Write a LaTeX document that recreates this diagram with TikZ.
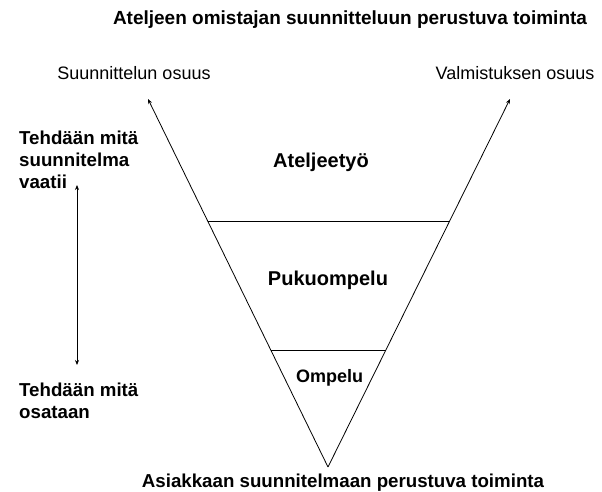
\documentclass[tikz,border=0pt]{standalone}
\usepackage{fontspec}
\setmainfont{Liberation Sans}
\usetikzlibrary{arrows.meta,calc}
\tikzset{>={Stealth[length=5pt,width=4pt]}}
\tikzstyle{plain} = [inner sep=0pt, font=\fontsize{18}{22}\selectfont]
\tikzstyle{heavy} = [inner sep=0pt, font=\bfseries\fontsize{18.7}{22}\selectfont]
\tikzstyle{edgeline} = [line width=0.8pt]

\begin{document}
\begin{tikzpicture}[x=1pt, y=-1pt]
  \useasboundingbox (0,0) rectangle (602,492);

  \node [heavy, font=\bfseries\fontsize{19}{22}\selectfont] (otsikko) at (350,20) {Ateljeen omistajan suunnitteluun perustuva toiminta};
  \node [plain] (suunnittelu) at (134,73) {Suunnittelun osuus};
  \node [plain] (valmistus) at (515,73) {Valmistuksen osuus};

  % the funnel
  \coordinate (apex) at (328,467);
  \coordinate (tipl) at (148,99);
  \coordinate (tipr) at (510,99);
  \path[->,edgeline] (apex) edge (tipl);
  \path[->,edgeline] (apex) edge (tipr);

  \coordinate (l1) at ($(apex)!0.668!(tipl)$);
  \coordinate (r1) at ($(apex)!0.668!(tipr)$);
  \coordinate (l2) at ($(apex)!0.318!(tipl)$);
  \coordinate (r2) at ($(apex)!0.318!(tipr)$);
  \path[edgeline] (l1) edge (r1);
  \path[edgeline] (l2) edge (r2);

  \node [heavy, font=\bfseries\fontsize{20}{22}\selectfont] (atelje) at (321,162) {Ateljeetyö};
  \node [heavy, font=\bfseries\fontsize{20}{22}\selectfont] (puku) at (328,280) {Pukuompelu};
  \node [heavy, font=\bfseries\fontsize{18}{22}\selectfont] (ompelu) at (329.5,378) {Ompelu};

  % left scale
  \node [heavy, align=left, anchor=west] (vaatii) at (19,160) {Tehdään mitä\\suunnitelma\\vaatii};
  \node [heavy, align=left, anchor=west] (osataan) at (19,401) {Tehdään mitä\\osataan};
  \coordinate (ylos) at (77,185);
  \coordinate (alas) at (77,365);
  \path[<->,edgeline] (ylos) edge (alas);

  \node [heavy] (asiakas) at (343,483) {Asiakkaan suunnitelmaan perustuva toiminta};
\end{tikzpicture}
\end{document}
